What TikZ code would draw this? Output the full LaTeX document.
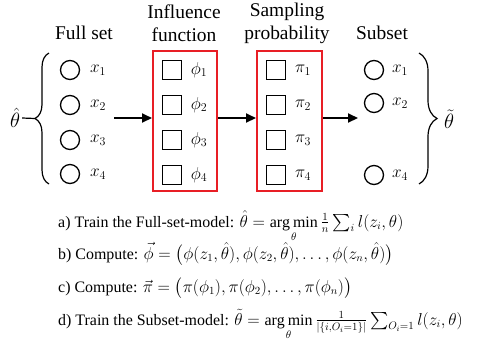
\documentclass[tikz,border=0pt]{standalone}
\usepackage{amsmath}
\usepackage{fontspec}
\setmainfont{Liberation Serif}
\usetikzlibrary{arrows.meta,decorations.pathreplacing}
\definecolor{boxred}{RGB}{232,30,37}
\begin{document}
\begin{tikzpicture}[x=1bp,y=-1bp,
  hdr/.style={font=\rmfamily\fontsize{19.5}{23}\selectfont, align=center, inner sep=0},
  item/.style={circle, draw, line width=1.3bp, minimum size=19bp, inner sep=0},
  sq/.style={draw, line width=1.3bp, minimum size=19bp, inner sep=0},
  lab/.style={font=\fontsize{17}{20}\selectfont, inner sep=0},
  redbox/.style={draw=boxred, line width=2bp, minimum width=64bp, minimum height=140bp, inner sep=0},
  arr/.style={line width=2bp, -{Triangle[length=10bp,width=9bp]}},
  eq/.style={font=\rmfamily\fontsize{16}{19}\selectfont, anchor=base west, inner sep=0},
  brc/.style={decorate, decoration={brace, amplitude=#1}, line width=1.2bp},
  brc/.default=14bp]
\useasboundingbox (0,0) rectangle (484,346);
% headers
\node[hdr] (hfull) at (84,33) {Full set};
\node[hdr] (hinf) at (184,23) {Influence\\function};
\node[hdr] (hsamp) at (287,23) {Sampling\\probability};
\node[hdr] (hsub) at (382,33) {Subset};
% full set
\foreach \i/\y in {1/70,2/105,3/140,4/174}{
  \node[item] (c\i) at (70,\y) {};
  \node[lab] (xl\i) at (98,\y) {$x_{\i}$};
}
% influence box
\node[redbox] (box1) at (185,121) {};
\foreach \i/\y in {1/70,2/105,3/140,4/175}{
  \node[sq] (s\i) at (172,\y) {};
  \node[lab] (pl\i) at (199,\y) {$\phi_{\i}$};
}
% sampling box
\node[redbox, minimum width=65bp] (box2) at (289.5,121) {};
\foreach \i/\y in {1/70,2/105,3/140,4/175}{
  \node[sq] (t\i) at (276,\y) {};
  \node[lab] (ql\i) at (303,\y) {$\pi_{\i}$};
}
% subset
\foreach \i/\y in {1/70,2/103,4/175}{
  \node[item] (d\i) at (374,\y) {};
  \node[lab] (yl\i) at (400,\y) {$x_{\i}$};
}
% braces
\coordinate (lb1) at (49,184);
\coordinate (lb2) at (49,53);
\coordinate (lbtip) at (35,118.5);
\draw[brc] (lb1) -- (lb2);
\node[lab, font=\fontsize{20}{22}\selectfont] (thhat) at (15,118) {$\hat\theta$};
\draw[line width=1.2bp] (lbtip) -- ([xshift=2bp]thhat.east);
\coordinate (rb1) at (419,53);
\coordinate (rb2) at (419,184);
\draw[brc=18bp] (rb1) -- (rb2);
\node[lab, font=\fontsize{20}{22}\selectfont] (thtil) at (449,119) {$\tilde\theta$};
% arrows
\coordinate (a0) at (114,118);
\coordinate (a3) at (358,118);
\draw[arr] (a0) -- (a0 -| box1.west);
\draw[arr] (box1.east |- a0) -- (box2.west |- a0);
\draw[arr] (box2.east |- a0) -- (a3);
% equations
\node[eq] (ea) at (58,227) {a) Train the Full-set-model: $\hat\theta=\mathop{\arg\min}\limits_{\theta}\frac{1}{n}\sum_i l(z_i,\theta)$};
\node[eq] (eb) at (58,259) {b) Compute: $\vec\phi=\bigl(\phi(z_1,\hat\theta),\phi(z_2,\hat\theta),\dots,\phi(z_n,\hat\theta)\bigr)$};
\node[eq] (ec) at (58,292) {c) Compute: $\vec\pi=\bigl(\pi(\phi_1),\pi(\phi_2),\dots,\pi(\phi_n)\bigr)$};
\node[eq] (ed) at (58,325) {d) Train the Subset-model: $\tilde\theta=\mathop{\arg\min}\limits_{\theta}\frac{1}{|\{i,O_i=1\}|}\sum_{O_i=1} l(z_i,\theta)$};
\end{tikzpicture}
\end{document}
